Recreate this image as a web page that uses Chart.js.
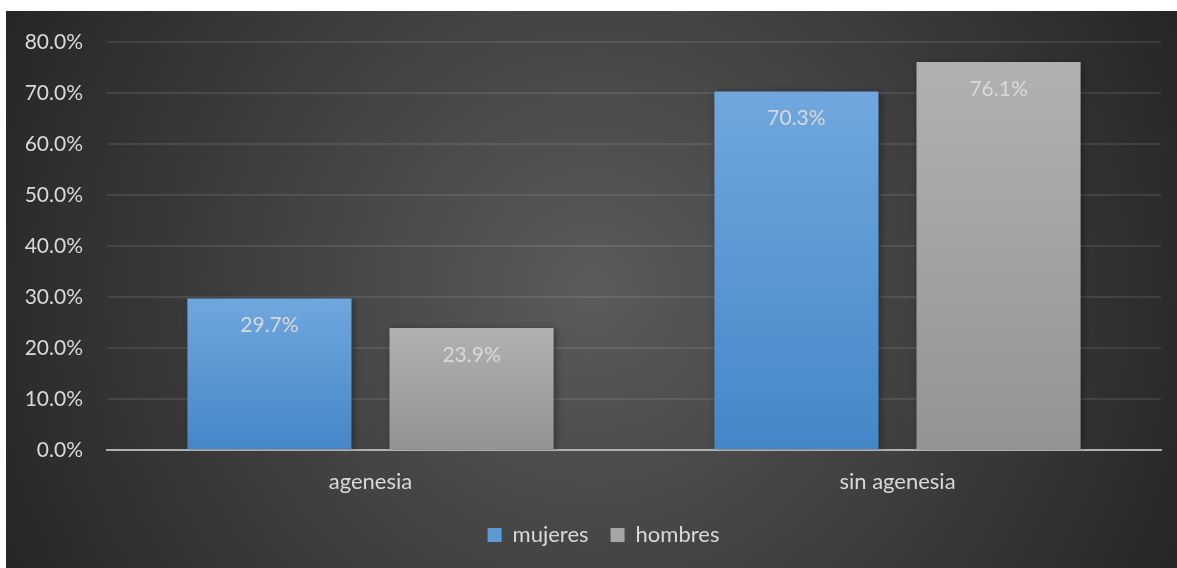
<!DOCTYPE html>
<html>
<head>
<meta charset="utf-8">
<script src="https://cdn.jsdelivr.net/npm/chart.js@4"></script>
<style>
    html, body { margin: 0; padding: 0; background: #ffffff; }
    #wrap { position: absolute; left: 6px; top: 11px; width: 1171px; height: 557px; }
</style>
</head>
<body>
<div id="wrap"><canvas id="chart"></canvas></div>
<script>
// 데이터
const categories = ['agenesia', 'sin agenesia'];
const mujeres = [29.7, 70.3];
const hombres = [23.9, 76.1];
const seriesNames = ['mujeres', 'hombres'];

const FONT = 'Lato, "Open Sans", sans-serif';
const TEXT = '#d9d9d9';

// 막대마다 위→아래 그라디언트
function barGradient(top, bottom) {
    return function(context) {
        const chart = context.chart;
        const y = chart.scales.y;
        if (!y || context.raw === undefined) return top;
        const y0 = y.getPixelForValue(context.raw);
        const y1 = y.getPixelForValue(0);
        const g = chart.ctx.createLinearGradient(0, y0, 0, y1);
        g.addColorStop(0, top);
        g.addColorStop(1, bottom);
        return g;
    };
}

// 배경 (방사형 그라디언트)
const backgroundPlugin = {
    id: 'panelBackground',
    beforeDraw(chart) {
        const { ctx, width, height } = chart;
        const cx = width * 0.5, cy = height * 0.5;
        const g = ctx.createRadialGradient(cx, cy, 0, cx, cy, Math.hypot(cx, cy));
        g.addColorStop(0, '#5b5b5b');
        g.addColorStop(1, '#262626');
        ctx.save();
        ctx.fillStyle = g;
        ctx.fillRect(0, 0, width, height);
        ctx.restore();
    }
};

// 범례를 약간 오른쪽으로
const legendShiftPlugin = {
    id: 'legendShift',
    afterLayout(chart) {
        if (chart.legend) {
            chart.legend.left += 20;
            chart.legend.right += 20;
        }
    }
};

// 막대 그림자
const shadowPlugin = {
    id: 'barShadow',
    beforeDatasetsDraw(chart) {
        const ctx = chart.ctx;
        ctx.save();
        ctx.shadowColor = 'rgba(0, 0, 0, 0.35)';
        ctx.shadowBlur = 7;
        ctx.shadowOffsetX = 2;
        ctx.shadowOffsetY = 1;
    },
    afterDatasetsDraw(chart) {
        chart.ctx.restore();
    }
};

// 막대 안쪽 위 값 라벨
const valueLabelPlugin = {
    id: 'valueLabels',
    afterDatasetsDraw(chart) {
        const ctx = chart.ctx;
        ctx.save();
        ctx.font = '21px ' + FONT;
        ctx.fillStyle = TEXT;
        ctx.textAlign = 'center';
        ctx.textBaseline = 'middle';
        chart.data.datasets.forEach((ds, i) => {
            chart.getDatasetMeta(i).data.forEach((bar, j) => {
                ctx.fillText(ds.data[j].toFixed(1) + '%', bar.x, bar.y + 27);
            });
        });
        ctx.restore();
    }
};

new Chart(document.getElementById('chart').getContext('2d'), {
    type: 'bar',
    data: {
        labels: categories,
        datasets: [
            {
                label: seriesNames[0],
                data: mujeres,
                backgroundColor: barGradient('#70a7de', '#4487c8'),
                categoryPercentage: 0.767,
                barPercentage: 0.812
            },
            {
                label: seriesNames[1],
                data: hombres,
                backgroundColor: barGradient('#b1b1b1', '#939393'),
                categoryPercentage: 0.767,
                barPercentage: 0.812
            }
        ]
    },
    options: {
        responsive: true,
        maintainAspectRatio: false,
        animation: false,
        layout: {
            padding: { top: 31, right: 16, bottom: 12, left: 0 }
        },
        plugins: {
            legend: {
                position: 'bottom',
                labels: {
                    color: TEXT,
                    font: { family: FONT, size: 22 },
                    boxWidth: 14,
                    boxHeight: 14,
                    padding: 22,
                    generateLabels(chart) {
                        return chart.data.datasets.map((ds, i) => ({
                            text: ds.label,
                            fillStyle: i === 0 ? '#5b9bd5' : '#a5a5a5',
                            strokeStyle: 'transparent',
                            lineWidth: 0,
                            fontColor: TEXT,
                            datasetIndex: i
                        }));
                    }
                }
            },
            tooltip: { enabled: false }
        },
        scales: {
            x: {
                grid: { display: false, drawTicks: false },
                border: { color: '#b0b0b0', width: 2 },
                ticks: {
                    color: TEXT,
                    font: { family: FONT, size: 22 },
                    padding: 19
                },
                afterFit(scale) {
                    scale.height = 52;
                }
            },
            y: {
                min: 0,
                max: 80,
                border: { display: false },
                grid: {
                    color: 'rgba(255, 255, 255, 0.09)',
                    lineWidth: 2,
                    drawTicks: false
                },
                ticks: {
                    stepSize: 10,
                    color: TEXT,
                    font: { family: FONT, size: 21 },
                    padding: 24,
                    callback: function(value) {
                        return value.toFixed(1) + '%';
                    }
                },
                afterFit(scale) {
                    scale.width = 101;
                    scale.paddingTop = 0;
                    scale.paddingBottom = 0;
                }
            }
        }
    },
    plugins: [backgroundPlugin, legendShiftPlugin, shadowPlugin, valueLabelPlugin]
});
</script>
</body>
</html>
